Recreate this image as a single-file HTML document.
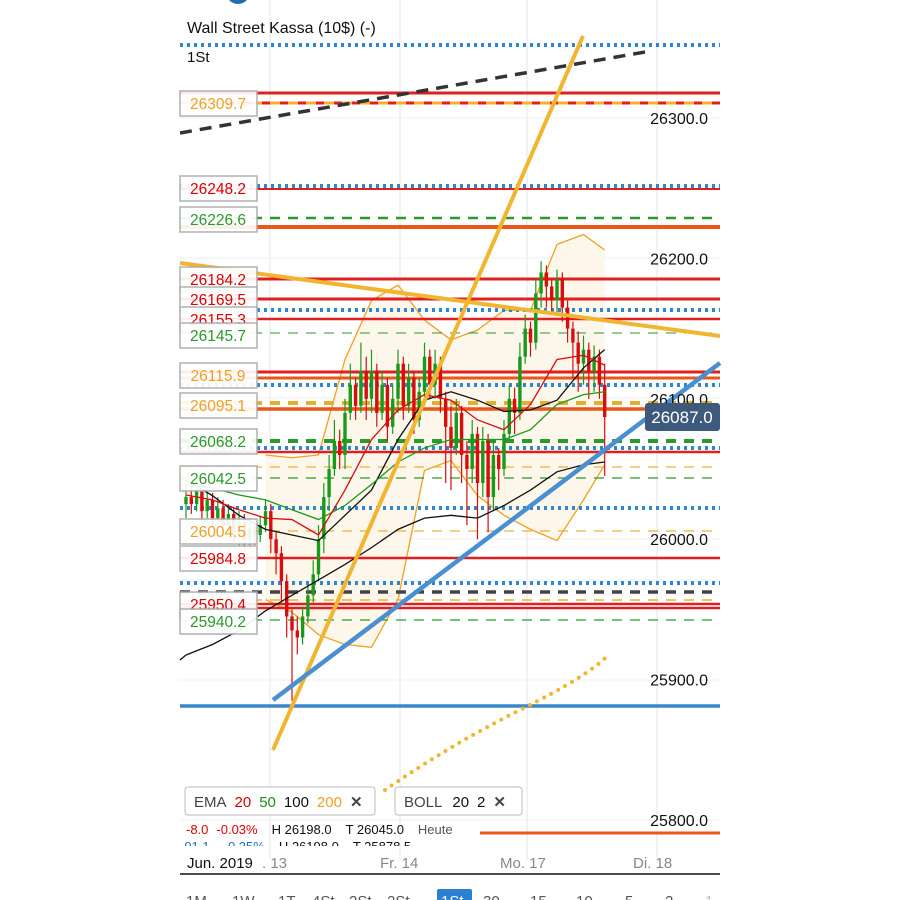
<!DOCTYPE html>
<html><head><meta charset="utf-8"><style>
html,body{margin:0;padding:0;background:#fff;width:900px;height:900px;overflow:hidden;font-family:"Liberation Sans",sans-serif;}
svg{display:block}
</style></head><body>
<svg id="chart" width="900" height="900" viewBox="0 0 900 900" xmlns="http://www.w3.org/2000/svg" font-family="Liberation Sans, sans-serif">
<circle cx="238" cy="-8" r="12" fill="#1f6fb5"/>
<g id="grid"></g>
<g id="bands"></g>
<g id="hlines"></g>
<g id="candles"></g>
<g id="inds"></g>
<g id="trend"></g>
<g id="labels"></g>
<g id="axis"></g>
<text x="187" y="33" font-size="16" fill="#111">Wall Street Kassa (10$) (-)</text>
<text x="187" y="62" font-size="15" fill="#111">1St</text>
<g>
<rect x="645" y="403" width="75" height="28" rx="3" fill="#3d5a7c"/>
<text x="682" y="423" font-size="17" fill="#fff" text-anchor="middle">26087.0</text>
</g>
<g>
<rect x="185" y="787" width="190" height="28" rx="3" fill="#fff" stroke="#bbb"/>
<text x="194" y="807" font-size="15"><tspan fill="#444">EMA</tspan><tspan dx="8" fill="#d00">20</tspan><tspan dx="8" fill="#1a8f1a">50</tspan><tspan dx="8" fill="#111">100</tspan><tspan dx="8" fill="#f0a020">200</tspan><tspan dx="8" fill="#444" font-weight="bold">✕</tspan></text>
</g>
<g>
<rect x="395" y="787" width="127" height="28" rx="3" fill="#fff" stroke="#bbb"/>
<text x="404" y="807" font-size="15"><tspan fill="#444">BOLL</tspan><tspan dx="10" fill="#111">20</tspan><tspan dx="8" fill="#111">2</tspan><tspan dx="8" fill="#444" font-weight="bold">✕</tspan></text>
</g>
<g font-size="13">
<text x="186" y="834"><tspan fill="#d00">-8.0</tspan><tspan dx="8" fill="#d00">-0.03%</tspan><tspan dx="14" fill="#111">H 26198.0</tspan><tspan dx="14" fill="#111">T 26045.0</tspan><tspan dx="14" fill="#555">Heute</tspan></text>
<clipPath id="cl2"><rect x="180" y="838" width="400" height="8"/></clipPath>
<text x="180" y="851" clip-path="url(#cl2)"><tspan fill="#1f6fb5">-91.1</tspan><tspan dx="14" fill="#1f6fb5">-0.35%</tspan><tspan dx="14" fill="#111">H 26198.0</tspan><tspan dx="14" fill="#111">T 25878.5</tspan></text>
</g>
<line x1="480" y1="833" x2="720" y2="833" stroke="#e8581a" stroke-width="3"/>
<g font-size="15">
<text x="187" y="868" fill="#111">Jun. 2019</text>
<text x="262" y="868" fill="#888">. 13</text>
<text x="380" y="868" fill="#888">Fr. 14</text>
<text x="500" y="868" fill="#888">Mo. 17</text>
<text x="633" y="868" fill="#888">Di. 18</text>
<line x1="180" y1="874" x2="720" y2="874" stroke="#111" stroke-width="1.5"/>
</g>
<g font-size="15" fill="#555">
<rect x="437" y="889" width="35" height="15" rx="2" fill="#2a7fd0"/>
<text x="186" y="906">1M</text><text x="232" y="906">1W</text><text x="278" y="906">1T</text><text x="312" y="906">4St</text><text x="349" y="906">2St</text><text x="387" y="906">2St</text><text x="441" y="906" fill="#fff">1St</text><text x="483" y="906">30</text><text x="530" y="906">15</text><text x="576" y="906">10</text><text x="625" y="906">5</text><text x="665" y="906">2</text><text x="705" y="906" fill="#bbb">1</text>
</g>
</svg>
<script>
const opens=[26025,26030,26025,26035,26020,26028,26015,26022,26010,26018,26005,26012,26000,26008,26003,26010,26020,26000,25990,25970,25945,25935,25930,25945,25960,25975,26000,26030,26050,26070,26060,26090,26110,26095,26120,26100,26120,26090,26110,26080,26100,26125,26095,26115,26085,26105,26130,26110,26125,26100,26080,26065,26090,26060,26050,26075,26040,26070,26030,26060,26050,26075,26100,26090,26130,26150,26140,26175,26190,26180,26170,26185,26165,26150,26140,26125,26135,26120,26130,26110];
const closes=[26030,26025,26035,26020,26028,26015,26022,26010,26018,26005,26012,26000,26008,26003,26010,26020,26000,25990,25970,25945,25935,25930,25945,25960,25975,26000,26030,26050,26070,26060,26090,26110,26095,26120,26100,26120,26090,26110,26080,26100,26125,26095,26115,26085,26105,26130,26110,26125,26100,26080,26065,26090,26060,26050,26075,26040,26070,26030,26060,26050,26075,26100,26090,26130,26150,26140,26175,26190,26180,26170,26185,26165,26150,26140,26125,26135,26120,26130,26110,26087];
const highs=[26040,26038,26042,26040,26035,26033,26030,26028,26025,26022,26020,26018,26015,26014,26016,26028,26025,26005,25995,25975,25950,25945,25952,25968,25985,26010,26040,26060,26085,26078,26100,26125,26115,26140,26130,26135,26125,26120,26115,26110,26135,26130,26125,26120,26115,26140,26135,26135,26130,26105,26095,26100,26095,26070,26085,26080,26080,26075,26070,26065,26085,26110,26108,26140,26160,26155,26185,26198,26195,26185,26192,26190,26170,26155,26148,26145,26140,26138,26135,26125];
const lows=[26015,26018,26020,26012,26015,26008,26010,26002,26004,25998,25995,25992,25995,25996,25998,26005,25990,25975,25955,25930,25885,25918,25925,25940,25955,25970,25990,26020,26045,26050,26050,26085,26085,26090,26085,26090,26080,26085,26070,26075,26090,26085,26090,26075,26080,26095,26100,26100,26090,26040,26035,26060,26040,26010,26040,26000,26030,26005,26020,26035,26045,26070,26075,26085,26125,26130,26135,26165,26165,26160,26160,26155,26140,26115,26105,26110,26100,26105,26100,26045];
const sampleIdx=[0,5,10,15,20,25,30,35,40,45,50,55,60,65,70,75,79];
const ema20=[26031.5,26028,26021,26015,26014,26003,26035,26071,26092,26103,26099,26085,26078,26096,26128,26131,26124];
const ema50=[26038.6,26036.5,26031.5,26028,26021,26014,26024,26039,26055,26065,26071,26071,26071,26078,26096,26103,26105];
const ema100=[26042,26031,26017,26007,26003,25999,26017,26035,26071,26099,26105,26099,26091,26092,26099,26122,26135];
const ema200=[25917.5,25925,25935,25949,25960,25971,25982,25994,26007,26015,26017,26015,26024,26035,26048,26053,26055];
const bollIdx=[15,20,25,30,35,40,45,50,55,60,65,70,75,79];
const bollUpper=[26060,26058,26060,26128,26170,26181,26156,26142,26149,26163,26163,26210,26217,26206];
const bollLower=[25957,25948,25932,25925,25923,25957,26049,26056,26031,26017,26007,25999,26028,26053];
const axisTicks=[26300,26200,26100,26000,25900,25800];
const levelLabels=[[26309.7,"#f0a020",103],[26248.2,"#d00",188],[26226.6,"#2a9a2a",219],[26184.2,"#d00",279],[26169.5,"#d00",299],[26155.3,"#d00",319],[26145.7,"#2a9a2a",335],[26115.9,"#f0a020",375],[26095.1,"#f0a020",405],[26068.2,"#2a9a2a",441],[26042.5,"#2a9a2a",478],[26004.5,"#f0a020",531],[25984.8,"#d00",558],[25950.4,"#d00",604],[25940.2,"#2a9a2a",621]];

const NS="http://www.w3.org/2000/svg";
const y=p=>118+(26300-p)*1.404;
const x=i=>186+i*5.3;
function mk(parent,tag,attrs){const e=document.createElementNS(NS,tag);for(const k in attrs)e.setAttribute(k,attrs[k]);document.getElementById(parent).appendChild(e);return e;}

[270,400,527,657].forEach(gx=>{const l=mk('grid','line',{x1:gx,y1:0,x2:gx,y2:860,stroke:'#e6e6ee','stroke-width':1});

});
[118,258,398,539,680,820].forEach(gy=>{const l=mk('grid','line',{x1:180,y1:gy,x2:720,y2:gy,stroke:'#efefef','stroke-width':1});

});

let up=bollIdx.map((k,j)=>x(k)+','+y(bollUpper[j])), lo=bollIdx.map((k,j)=>x(k)+','+y(bollLower[j]));
const bf=mk('bands','polygon',{points:up.concat(lo.slice().reverse()).join(' '),fill:'#fdf6ea',stroke:'none'});


const bu=mk('bands','polyline',{points:up.join(' '),fill:'none',stroke:'#f0a020','stroke-width':1.3});


const bl=mk('bands','polyline',{points:lo.join(' '),fill:'none',stroke:'#f0a020','stroke-width':1.3});



const H=[[45,'#2e86d0',4,'3 4'],[93,'#e02020',3,''],[103,'#e02020',3,''],[103,'#f0b030',3,'10 8'],[186,'#2e86d0',4,'3 4'],[189,'#e02020',2,''],[218,'#2a9a2a',2.5,'10 8'],[227,'#e8581a',4,''],[279,'#e02020',3,''],[299,'#e02020',3,''],[310,'#2e86d0',4,'3 4'],[319,'#e02020',2.5,''],[333,'#2a9a2a',1,'10 8'],[372,'#e02020',3,''],[378,'#e8581a',3,''],[385,'#2e86d0',4,'3 4'],[403,'#e0b030',4,'10 8'],[409,'#e8581a',3.5,''],[441,'#2a9a2a',4,'10 8'],[448,'#2e86d0',4,'3 4'],[452,'#e02020',2.5,''],[467,'#f0b030',1.3,'10 8'],[478,'#2a9a2a',1.3,'10 8'],[508,'#2e86d0',4,'3 4'],[531,'#f0b030',1.3,'10 8'],[558,'#e02020',2.5,''],[583,'#2e86d0',4,'3 4'],[592,'#444',3.5,'10 8'],[600,'#f0b030',1.5,'10 8'],[604,'#e02020',2.5,''],[608,'#e02020',2.5,''],[620,'#2a9a2a',1.3,'10 8'],[706,'#3a86c8',3.5,'']];
H.forEach(h=>{const a={x1:180,y1:h[0],x2:720,y2:h[0],stroke:h[1],'stroke-width':h[2]};if(h[3])a['stroke-dasharray']=h[3];const l=mk('hlines','line',a);

});

closes.forEach((c,i)=>{const o=opens[i],col=c>=o?'#1a9a1a':'#d80d0d',cx=x(i);
const w=mk('candles','line',{x1:cx,y1:y(highs[i]),x2:cx,y2:y(lows[i]),stroke:col,'stroke-width':1.2});


const top=y(Math.max(o,c)),h=Math.max(1.5,Math.abs(y(o)-y(c)));
const b=mk('candles','rect',{x:cx-1.7,y:top,width:3.4,height:h,fill:col});

});

function line(arr,col,name,wid){const pts=sampleIdx.map((k,j)=>x(k)+','+y(arr[j]));const l=mk('inds','polyline',{points:pts.join(' '),fill:'none',stroke:col,'stroke-width':wid});

}
line(ema200,'#111','ema-lower-line',1.3);
line(ema100,'#111','ema100-line',1.3);
line(ema50,'#1a9a1a','ema50-line',1.3);
line(ema20,'#d80d0d','ema20-line',1.3);
const ext=mk('inds','line',{x1:180,y1:660,x2:186,y2:y(ema200[0]),stroke:'#111','stroke-width':1.3});



const T=[[180,133,645,52,'#333',3.5,'12 8','trend-black-dashed'],[273,750,583,36,'#f2b530',4,'','trend-orange-steep'],[180,263,720,336,'#f2b530',4,'','trend-orange-desc'],[273,700,720,363,'#4a90d0',4.5,'','trend-blue']];
T.forEach(t=>{const a={x1:t[0],y1:t[1],x2:t[2],y2:t[3],stroke:t[4],'stroke-width':t[5]};if(t[6])a['stroke-dasharray']=t[6];const l=mk('trend','line',a);

});
const dc=mk('trend','path',{d:'M385,790 Q450,745 520,710 T608,655',fill:'none',stroke:'#f2b530','stroke-width':4,'stroke-dasharray':'0 8','stroke-linecap':'round'});



levelLabels.forEach(L=>{const yy=L[2];
const r=mk('labels','rect',{x:180,y:yy-12,width:77,height:25,fill:'#fff',stroke:'#aaa','stroke-width':1.5,opacity:0.92});


const t=mk('labels','text',{x:218,y:yy+6,'font-size':15.5,fill:L[1],'text-anchor':'middle'});t.textContent=L[0].toFixed(1);

});

axisTicks.forEach(p=>{const t=mk('axis','text',{x:708,y:y(p)+6,'font-size':16,fill:'#111','text-anchor':'end'});t.textContent=p.toFixed(1);

});
</script>
</body></html>
